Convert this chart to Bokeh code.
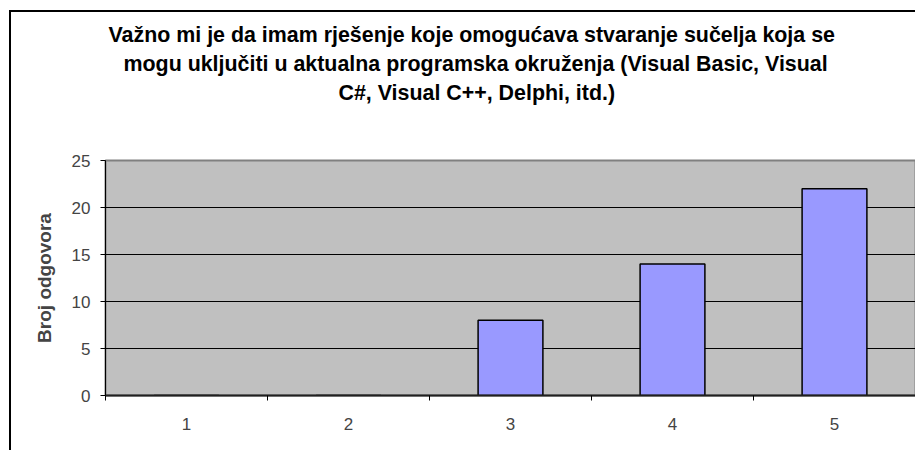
from bokeh.plotting import figure
from bokeh.models import Range1d, FixedTicker, Title
from bokeh.embed import file_html
from bokeh.resources import INLINE

categories = [1, 2, 3, 4, 5]
counts = [0, 0, 8, 14, 22]
y_ticks = [0, 5, 10, 15, 20, 25]
title_lines = [
    "Važno mi je da imam rješenje koje omogućava stvaranje sučelja koja se",
    "mogu uključiti u aktualna programska okruženja (Visual Basic, Visual",
    "C#, Visual C++, Delphi,  itd.)",
]
y_label = "Broj odgovora"

FONT = "Liberation Sans"

p = figure(width=906, height=440, output_backend="svg", toolbar_location=None,
           x_range=Range1d(0.5, 5.5), y_range=Range1d(0, 25),
           min_border_left=94, min_border_right=2, min_border_top=148, min_border_bottom=57)
p.styles = {"border-left": "2px solid black", "border-top": "2px solid black",
            "margin-left": "9px", "margin-top": "10px"}

p.background_fill_color = "#C0C0C0"
p.border_fill_color = "white"
p.outline_line_color = "#808080"
p.outline_line_width = 2

p.vbar(x=categories, top=counts, width=0.4, bottom=0,
       fill_color="#9999FF", line_color="black", line_width=1.5)

# y axis
p.yaxis.ticker = FixedTicker(ticks=y_ticks)
p.yaxis.axis_line_color = "black"
p.yaxis.major_tick_out = 5
p.yaxis.major_tick_in = 0
p.yaxis.minor_tick_out = 0
p.yaxis.minor_tick_in = 0
p.yaxis.major_label_text_font = FONT
p.yaxis.major_label_text_font_size = "17px"
p.yaxis.major_label_standoff = 10
p.yaxis.axis_label = y_label
p.yaxis.axis_label_text_font = FONT
p.yaxis.axis_label_text_font_style = "bold"
p.yaxis.axis_label_text_font_size = "19px"
p.yaxis.axis_label_standoff = 14

# x axis: labels at centres, tick marks at category boundaries
bounds = [c - 0.5 for c in categories] + [categories[-1] + 0.5]
p.xaxis.ticker = FixedTicker(ticks=categories, minor_ticks=bounds)
p.xaxis.axis_line_color = "#202020"
p.xaxis.axis_line_width = 2
p.xaxis.major_tick_out = 0
p.xaxis.major_tick_in = 0
p.xaxis.minor_tick_out = 5
p.xaxis.minor_tick_in = 0
p.xaxis.minor_tick_line_color = "black"
p.xaxis.major_label_text_font = FONT
p.xaxis.major_label_text_font_size = "17px"
p.xaxis.major_label_standoff = 17

p.ygrid.grid_line_color = "black"
p.ygrid.grid_line_width = 1
p.xgrid.grid_line_color = None

# spacer between the title block and the plot area
p.add_layout(Title(text=" ", text_font_size="1px", standoff=51), "above")
offsets = [3, 18, 233]
for line, off in reversed(list(zip(title_lines, offsets))):
    p.add_layout(Title(text=line, align="left", offset=off, standoff=3,
                       text_font=FONT, text_font_style="bold",
                       text_font_size="21.4px", text_color="black"), "above")

open("out.html", "w").write(file_html(p, INLINE))
